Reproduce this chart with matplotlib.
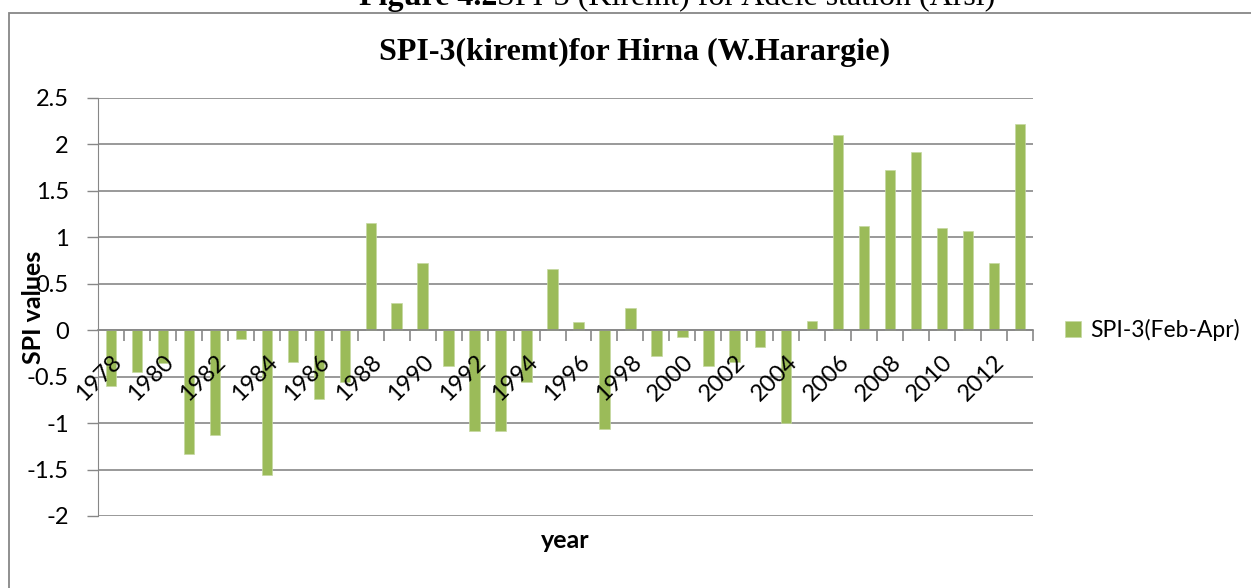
import matplotlib
matplotlib.use("Agg")
import matplotlib.pyplot as plt
from matplotlib.patches import Rectangle

years = list(range(1978, 2014))
spi3 = [-0.60, -0.45, -0.35, -1.33, -1.13, -0.09, -1.56, -0.34, -0.74, -0.56,
        1.15, 0.29, 0.72, -0.38, -1.09, -1.09, -0.56, 0.66, 0.09, -1.06,
        0.24, -0.28, -0.07, -0.38, -0.34, -0.18, -1.00, 0.10, 2.10, 1.12,
        1.72, 1.92, 1.10, 1.07, 0.72, 2.22]
yticks = [-2, -1.5, -1, -0.5, 0, 0.5, 1, 1.5, 2, 2.5]
ytick_labels = ["-2", "-1.5", "-1", "-0.5", "0", "0.5", "1", "1.5", "2", "2.5"]

W, H = 1251, 588
fig = plt.figure(figsize=(W / 100, H / 100), dpi=100)
sans = ["Lato", "DejaVu Sans"]
serif = ["Liberation Serif", "DejaVu Serif"]
grey = "#878787"
green = "#9BBB59"

# outer chart frame, runs off the right and bottom edges
fig.patches.append(Rectangle((9 / W, -0.1), 1.2, 1 - 13 / H + 0.1, transform=fig.transFigure,
                             fill=False, edgecolor=grey, linewidth=1.3, clip_on=False))

# document caption, half cut off at the top of the page
fig.text(497 / W, 1 - 5 / H, "Figure 4.2", fontsize=23, fontweight="bold",
         family=serif, ha="right", va="baseline")
fig.text(497 / W, 1 - 5 / H, "SPI-3 (Kiremt) for Adele station (Arsi)", fontsize=23,
         family=serif, ha="left", va="baseline")

ax = fig.add_axes([98 / W, 1 - 516 / H, (1033 - 98) / W, (516 - 98) / H])
x = list(range(len(years)))
ax.bar(x, spi3, width=0.4, color=green, edgecolor="#c5d9a0", linewidth=0.5,
       label="SPI-3(Feb-Apr)", zorder=3)

ax.set_xlim(-0.5, len(years) - 0.5)
ax.set_ylim(-2, 2.5)
ax.set_yticks(yticks)
ax.set_yticklabels(ytick_labels, family=sans, fontsize=17)
ax.yaxis.grid(True, color=grey, linewidth=1.2)
ax.yaxis.set_zorder(0)
ax.tick_params(axis="y", length=8, color=grey, width=1, pad=13)

for s in ["top", "right"]:
    ax.spines[s].set_visible(False)
ax.spines["left"].set_color(grey)
ax.spines["bottom"].set_position(("data", 0))
ax.spines["bottom"].set_color(grey)
ax.spines["bottom"].set_linewidth(1.2)
ax.spines["bottom"].set_zorder(4)

ax.set_xticks(x[::2])
ax.set_xticklabels([str(y) for y in years[::2]], rotation=45, family=sans, fontsize=17,
                   ha="right", va="top", rotation_mode="anchor")
ax.set_xticks([i + 0.5 for i in x], minor=True)
ax.tick_params(axis="x", which="major", length=0, pad=15)
ax.tick_params(axis="x", which="minor", length=8, color=grey, width=1.2)
ax.xaxis.set_zorder(5)  # year labels sit on top of the bars

ax.set_ylabel("SPI values", family=sans, fontsize=18, fontweight="bold")
ax.yaxis.set_label_coords(-64 / (1033 - 98), 0.5)
ax.set_xlabel("year", family=sans, fontsize=18, fontweight="bold")
ax.xaxis.set_label_coords((565 - 98) / (1033 - 98), -(541 - 516) / (516 - 98))
ax.xaxis.label.set_va("center")
ax.yaxis.label.set_va("center")

fig.text(635 / W, 1 - 52 / H, "SPI-3(kiremt)for Hirna (W.Harargie)", fontsize=23,
         fontweight="bold", family=serif, ha="center", va="center")

fig.legend(loc="center left", bbox_to_anchor=(1056 / W, 1 - 330 / H), frameon=False,
           prop={"family": sans, "size": 16.5}, handlelength=0.7, handleheight=0.7,
           handletextpad=0.4, borderaxespad=0)

fig.savefig("out.png", dpi=100)
